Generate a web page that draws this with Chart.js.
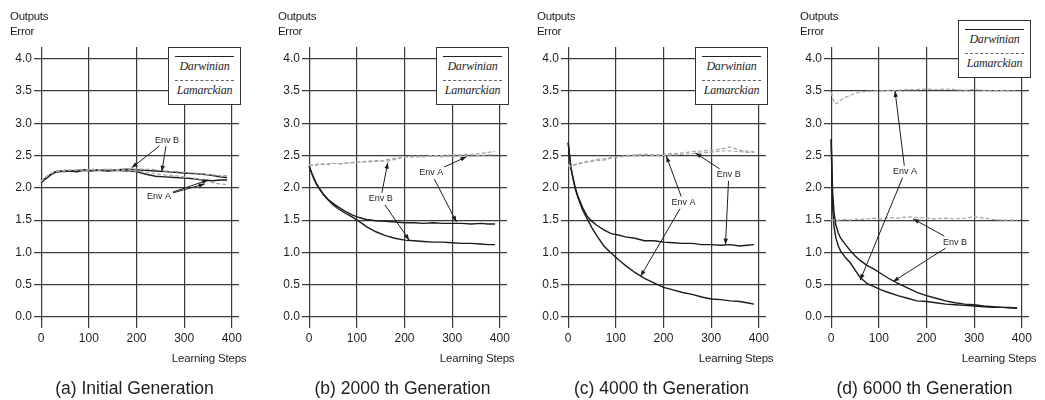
<!DOCTYPE html>
<html>
<head>
<meta charset="utf-8">
<script src="https://cdn.jsdelivr.net/npm/chart.js@4"></script>
<style>
body{margin:0;background:#fff;width:1045px;height:400px;overflow:hidden;font-family:"Liberation Sans",Arial,sans-serif;color:#1e1e1e}
.panel{position:absolute;top:0;width:260px;height:400px}
.panel canvas{position:absolute;left:0;top:0}
.ytitle{position:absolute;top:9px;font-size:11.5px;line-height:15px;letter-spacing:-0.3px}
.xtitle{position:absolute;top:351px;font-size:11.5px;line-height:14px;white-space:nowrap;letter-spacing:-0.2px}
.caption{position:absolute;top:378px;width:260px;text-align:center;font-size:17.5px;line-height:20px;white-space:nowrap}
.legend{position:absolute;width:71px;height:56px;border:1px solid #333;background:#fff}
.legend .ln{position:absolute;left:6px;right:6px;height:0}
.legend .dw{top:8px;border-top:1.5px solid #222}
.legend .lm{top:32px;border-top:1px dashed #666}
.legend .tx{position:absolute;left:0;right:0;text-align:center;font-family:"Liberation Serif","Times New Roman",serif;font-style:italic;font-size:12px;line-height:14px;letter-spacing:-0.2px}
</style>
</head>
<body>
<script>
const steps = [0,3,6,10,15,20,30,40,50,60,75,90,105,120,140,160,180,200,220,240,260,280,300,320,340,360,375,390];
const xTicks = [0,100,200,300,400];
const yTicks = [0,0.5,1,1.5,2,2.5,3,3.5,4];
const captions = ['(a) Initial Generation','(b) 2000 th Generation','(c) 4000 th Generation','(d) 6000 th Generation'];

// (a) initial generation
const aDarwinA = [2.08,2.10,2.12,2.14,2.17,2.20,2.24,2.25,2.25,2.26,2.25,2.27,2.26,2.27,2.26,2.27,2.26,2.25,2.21,2.18,2.17,2.16,2.15,2.14,2.12,2.11,2.12,2.12];
const aDarwinB = [2.09,2.11,2.13,2.15,2.18,2.21,2.25,2.26,2.27,2.26,2.27,2.28,2.27,2.28,2.27,2.28,2.29,2.28,2.27,2.26,2.25,2.24,2.23,2.22,2.21,2.19,2.17,2.16];
const aLamarckA = [2.10,2.12,2.14,2.16,2.19,2.22,2.26,2.27,2.26,2.27,2.28,2.27,2.26,2.27,2.28,2.27,2.26,2.26,2.24,2.22,2.20,2.19,2.17,2.15,2.11,2.08,2.06,2.05];
const aLamarckB = [2.10,2.12,2.15,2.17,2.20,2.22,2.25,2.26,2.27,2.28,2.27,2.28,2.29,2.28,2.29,2.28,2.29,2.29,2.29,2.28,2.26,2.25,2.24,2.23,2.21,2.20,2.19,2.19];

// (b) 2000th
const bDarwinA = [2.34,2.28,2.22,2.15,2.07,2.01,1.90,1.82,1.76,1.71,1.64,1.58,1.54,1.51,1.49,1.48,1.47,1.46,1.46,1.45,1.46,1.45,1.45,1.45,1.44,1.45,1.44,1.44];
const bDarwinB = [2.34,2.27,2.21,2.14,2.06,2.00,1.89,1.81,1.74,1.68,1.61,1.55,1.48,1.40,1.32,1.26,1.22,1.19,1.18,1.17,1.16,1.16,1.15,1.14,1.14,1.13,1.12,1.12];
const bLamarckA = [2.36,2.36,2.35,2.36,2.36,2.37,2.36,2.37,2.38,2.37,2.38,2.39,2.40,2.41,2.42,2.41,2.44,2.48,2.49,2.49,2.50,2.50,2.51,2.51,2.52,2.53,2.55,2.56];
const bLamarckB = [2.35,2.34,2.35,2.36,2.35,2.36,2.37,2.36,2.38,2.37,2.38,2.39,2.40,2.40,2.41,2.43,2.46,2.47,2.48,2.48,2.49,2.48,2.49,2.50,2.49,2.50,2.51,2.51];

// (c) 4000th
const cDarwinA = [2.70,2.50,2.30,2.15,1.98,1.86,1.66,1.52,1.38,1.26,1.10,0.99,0.89,0.80,0.69,0.60,0.53,0.46,0.42,0.38,0.35,0.31,0.28,0.27,0.25,0.24,0.22,0.20];
const cDarwinB = [2.70,2.50,2.30,2.16,2.00,1.88,1.70,1.56,1.48,1.42,1.35,1.29,1.27,1.24,1.22,1.18,1.18,1.16,1.15,1.14,1.14,1.12,1.12,1.11,1.12,1.10,1.11,1.12];
const cLamarckA = [2.36,2.33,2.34,2.34,2.36,2.37,2.38,2.40,2.41,2.42,2.43,2.46,2.47,2.49,2.50,2.51,2.50,2.50,2.51,2.52,2.53,2.54,2.55,2.57,2.57,2.56,2.55,2.55];
const cLamarckB = [2.34,2.32,2.33,2.35,2.36,2.38,2.39,2.41,2.42,2.44,2.45,2.47,2.48,2.50,2.51,2.52,2.51,2.52,2.53,2.54,2.56,2.57,2.58,2.60,2.63,2.58,2.57,2.56];

// (d) 6000th
const dDarwinA = [2.75,1.70,1.40,1.22,1.10,1.02,0.92,0.84,0.73,0.62,0.52,0.47,0.42,0.38,0.33,0.29,0.25,0.24,0.22,0.20,0.19,0.18,0.17,0.16,0.15,0.15,0.14,0.14];
const dDarwinB = [2.75,1.95,1.62,1.42,1.30,1.22,1.12,1.03,0.95,0.88,0.80,0.74,0.67,0.60,0.52,0.45,0.38,0.33,0.29,0.25,0.22,0.20,0.19,0.17,0.16,0.15,0.15,0.14];
const dLamarckA = [3.48,3.40,3.33,3.30,3.32,3.36,3.40,3.43,3.46,3.48,3.49,3.50,3.50,3.51,3.51,3.52,3.52,3.53,3.52,3.53,3.52,3.51,3.52,3.51,3.50,3.51,3.50,3.50];
const dLamarckB = [1.50,1.49,1.50,1.49,1.50,1.50,1.51,1.50,1.52,1.51,1.52,1.53,1.52,1.54,1.53,1.55,1.54,1.53,1.52,1.53,1.52,1.53,1.55,1.53,1.51,1.50,1.50,1.50];

// "Env" labels: label position and arrow targets, in data units
const aNotes = [
  {text: 'Env B', at: [264, 2.74], to: [[190, 2.31], [253, 2.25]]},
  {text: 'Env A', at: [247, 1.86], to: [[343, 2.06], [350, 2.12]]}
];
const bNotes = [
  {text: 'Env B', at: [150, 1.83], to: [[165, 2.39], [210, 1.19]]},
  {text: 'Env A', at: [256, 2.23], to: [[330, 2.48], [309, 1.47]]}
];
const cNotes = [
  {text: 'Env A', at: [242, 1.77], to: [[206, 2.49], [152, 0.63]]},
  {text: 'Env B', at: [337, 2.20], to: [[267, 2.54], [330, 1.12]]}
];
const dNotes = [
  {text: 'Env A', at: [155, 2.25], to: [[134, 3.50], [61, 0.57]]},
  {text: 'Env B', at: [260, 1.16], to: [[172, 1.52], [130, 0.55]]}
];

const panels = [
  {darwin: [aDarwinA, aDarwinB], lamarck: [aLamarckA, aLamarckB], notes: aNotes, left: 0, pad: [34, 21], legendTop: 47},
  {darwin: [bDarwinA, bDarwinB], lamarck: [bLamarckA, bLamarckB], notes: bNotes, left: 262, pad: [40, 15], legendTop: 47},
  {darwin: [cDarwinA, cDarwinB], lamarck: [cLamarckA, cLamarckB], notes: cNotes, left: 522, pad: [39, 16], legendTop: 47},
  {darwin: [dDarwinA, dDarwinB], lamarck: [dLamarckA, dLamarckB], notes: dNotes, left: 784, pad: [40, 15], legendTop: 20}
];

function envNotes(notes) {
  return {
    id: 'envNotes',
    afterDatasetsDraw(chart) {
      const ctx = chart.ctx, x = chart.scales.x, y = chart.scales.y;
      ctx.save();
      ctx.font = '9px "Liberation Sans", Arial, sans-serif';
      ctx.fillStyle = '#1e1e1e';
      ctx.strokeStyle = '#1e1e1e';
      ctx.lineWidth = 1;
      ctx.textAlign = 'center';
      ctx.textBaseline = 'middle';
      notes.forEach(n => {
        const cx = x.getPixelForValue(n.at[0]), cy = y.getPixelForValue(n.at[1]);
        const hw = ctx.measureText(n.text).width / 2 + 2, hh = 6;
        ctx.fillText(n.text, cx, cy);
        n.to.forEach(t => {
          const tx = x.getPixelForValue(t[0]), ty = y.getPixelForValue(t[1]);
          const dx = tx - cx, dy = ty - cy;
          const s = Math.min(hw / Math.abs(dx || 1e-6), hh / Math.abs(dy || 1e-6));
          const sx = cx + dx * s, sy = cy + dy * s;
          ctx.beginPath();
          ctx.moveTo(sx, sy);
          ctx.lineTo(tx, ty);
          ctx.stroke();
          const a = Math.atan2(ty - sy, tx - sx);
          ctx.beginPath();
          ctx.moveTo(tx, ty);
          ctx.lineTo(tx - 6 * Math.cos(a) + 2.2 * Math.sin(a), ty - 6 * Math.sin(a) - 2.2 * Math.cos(a));
          ctx.lineTo(tx - 6 * Math.cos(a) - 2.2 * Math.sin(a), ty - 6 * Math.sin(a) + 2.2 * Math.cos(a));
          ctx.closePath();
          ctx.fill();
        });
      });
      ctx.restore();
    }
  };
}

const pts = v => v.map((val, i) => ({x: steps[i], y: val}));

panels.forEach((p, k) => {
  const box = document.createElement('div');
  box.className = 'panel';
  box.style.left = p.left + 'px';
  document.body.appendChild(box);
  const cv = document.createElement('canvas');
  cv.width = 260; cv.height = 400;
  box.appendChild(cv);

  const ds = [];
  p.lamarck.forEach(v => ds.push({data: pts(v), borderColor: '#a6a6a6', borderWidth: 1.2, borderDash: [4, 2]}));
  p.darwin.forEach(v => ds.push({data: pts(v), borderColor: '#1c1c1c', borderWidth: 1.4}));

  const chart = new Chart(cv, {
    type: 'line',
    data: {datasets: ds},
    options: {
      responsive: false,
      animation: false,
      layout: {padding: {left: 0, right: p.pad[1], top: 47, bottom: 0}},
      plugins: {legend: {display: false}, tooltip: {enabled: false}},
      elements: {point: {radius: 0}, line: {tension: 0}},
      scales: {
        x: {
          type: 'linear', min: -15, max: 415,
          afterBuildTicks: s => { s.ticks = xTicks.map(v => ({value: v})); },
          afterFit: s => { s.height = 72; },
          grid: {color: '#3a3a3a', lineWidth: 1.2, drawTicks: false},
          border: {display: false},
          ticks: {padding: 3, maxRotation: 0, autoSkip: false, color: '#1e1e1e', font: {size: 12, family: '"Liberation Sans", Arial, sans-serif'}}
        },
        y: {
          min: -0.17, max: 4.18,
          afterBuildTicks: s => { s.ticks = yTicks.map(v => ({value: v})); },
          afterFit: s => { s.width = p.pad[0]; },
          grid: {color: '#3a3a3a', lineWidth: 1.2, drawTicks: false},
          border: {display: false},
          ticks: {padding: 2, autoSkip: false, color: '#1e1e1e', font: {size: 12, family: '"Liberation Sans", Arial, sans-serif'}, callback: v => v.toFixed(1)}
        }
      }
    },
    plugins: [envNotes(p.notes)]
  });

  const area = chart.chartArea, xs = chart.scales.x;

  const yt = document.createElement('div');
  yt.className = 'ytitle';
  yt.style.left = (area.left - 24) + 'px';
  yt.innerHTML = 'Outputs<br>Error';
  box.appendChild(yt);

  const xt = document.createElement('div');
  xt.className = 'xtitle';
  xt.textContent = 'Learning Steps';
  box.appendChild(xt);
  xt.style.left = (xs.getPixelForValue(400) + 15 - xt.offsetWidth) + 'px';

  const cap = document.createElement('div');
  cap.className = 'caption';
  cap.textContent = captions[k];
  cap.style.left = (xs.getPixelForValue(200) - 2 - 130) + 'px';
  box.appendChild(cap);

  const lg = document.createElement('div');
  lg.className = 'legend';
  lg.style.left = (area.right + 2 - 73) + 'px';
  lg.style.top = p.legendTop + 'px';
  lg.innerHTML = '<div class="ln dw"></div><div class="tx" style="top:11px">Darwinian</div>' +
                 '<div class="ln lm"></div><div class="tx" style="top:35px">Lamarckian</div>';
  box.appendChild(lg);
});
</script>
</body>
</html>
